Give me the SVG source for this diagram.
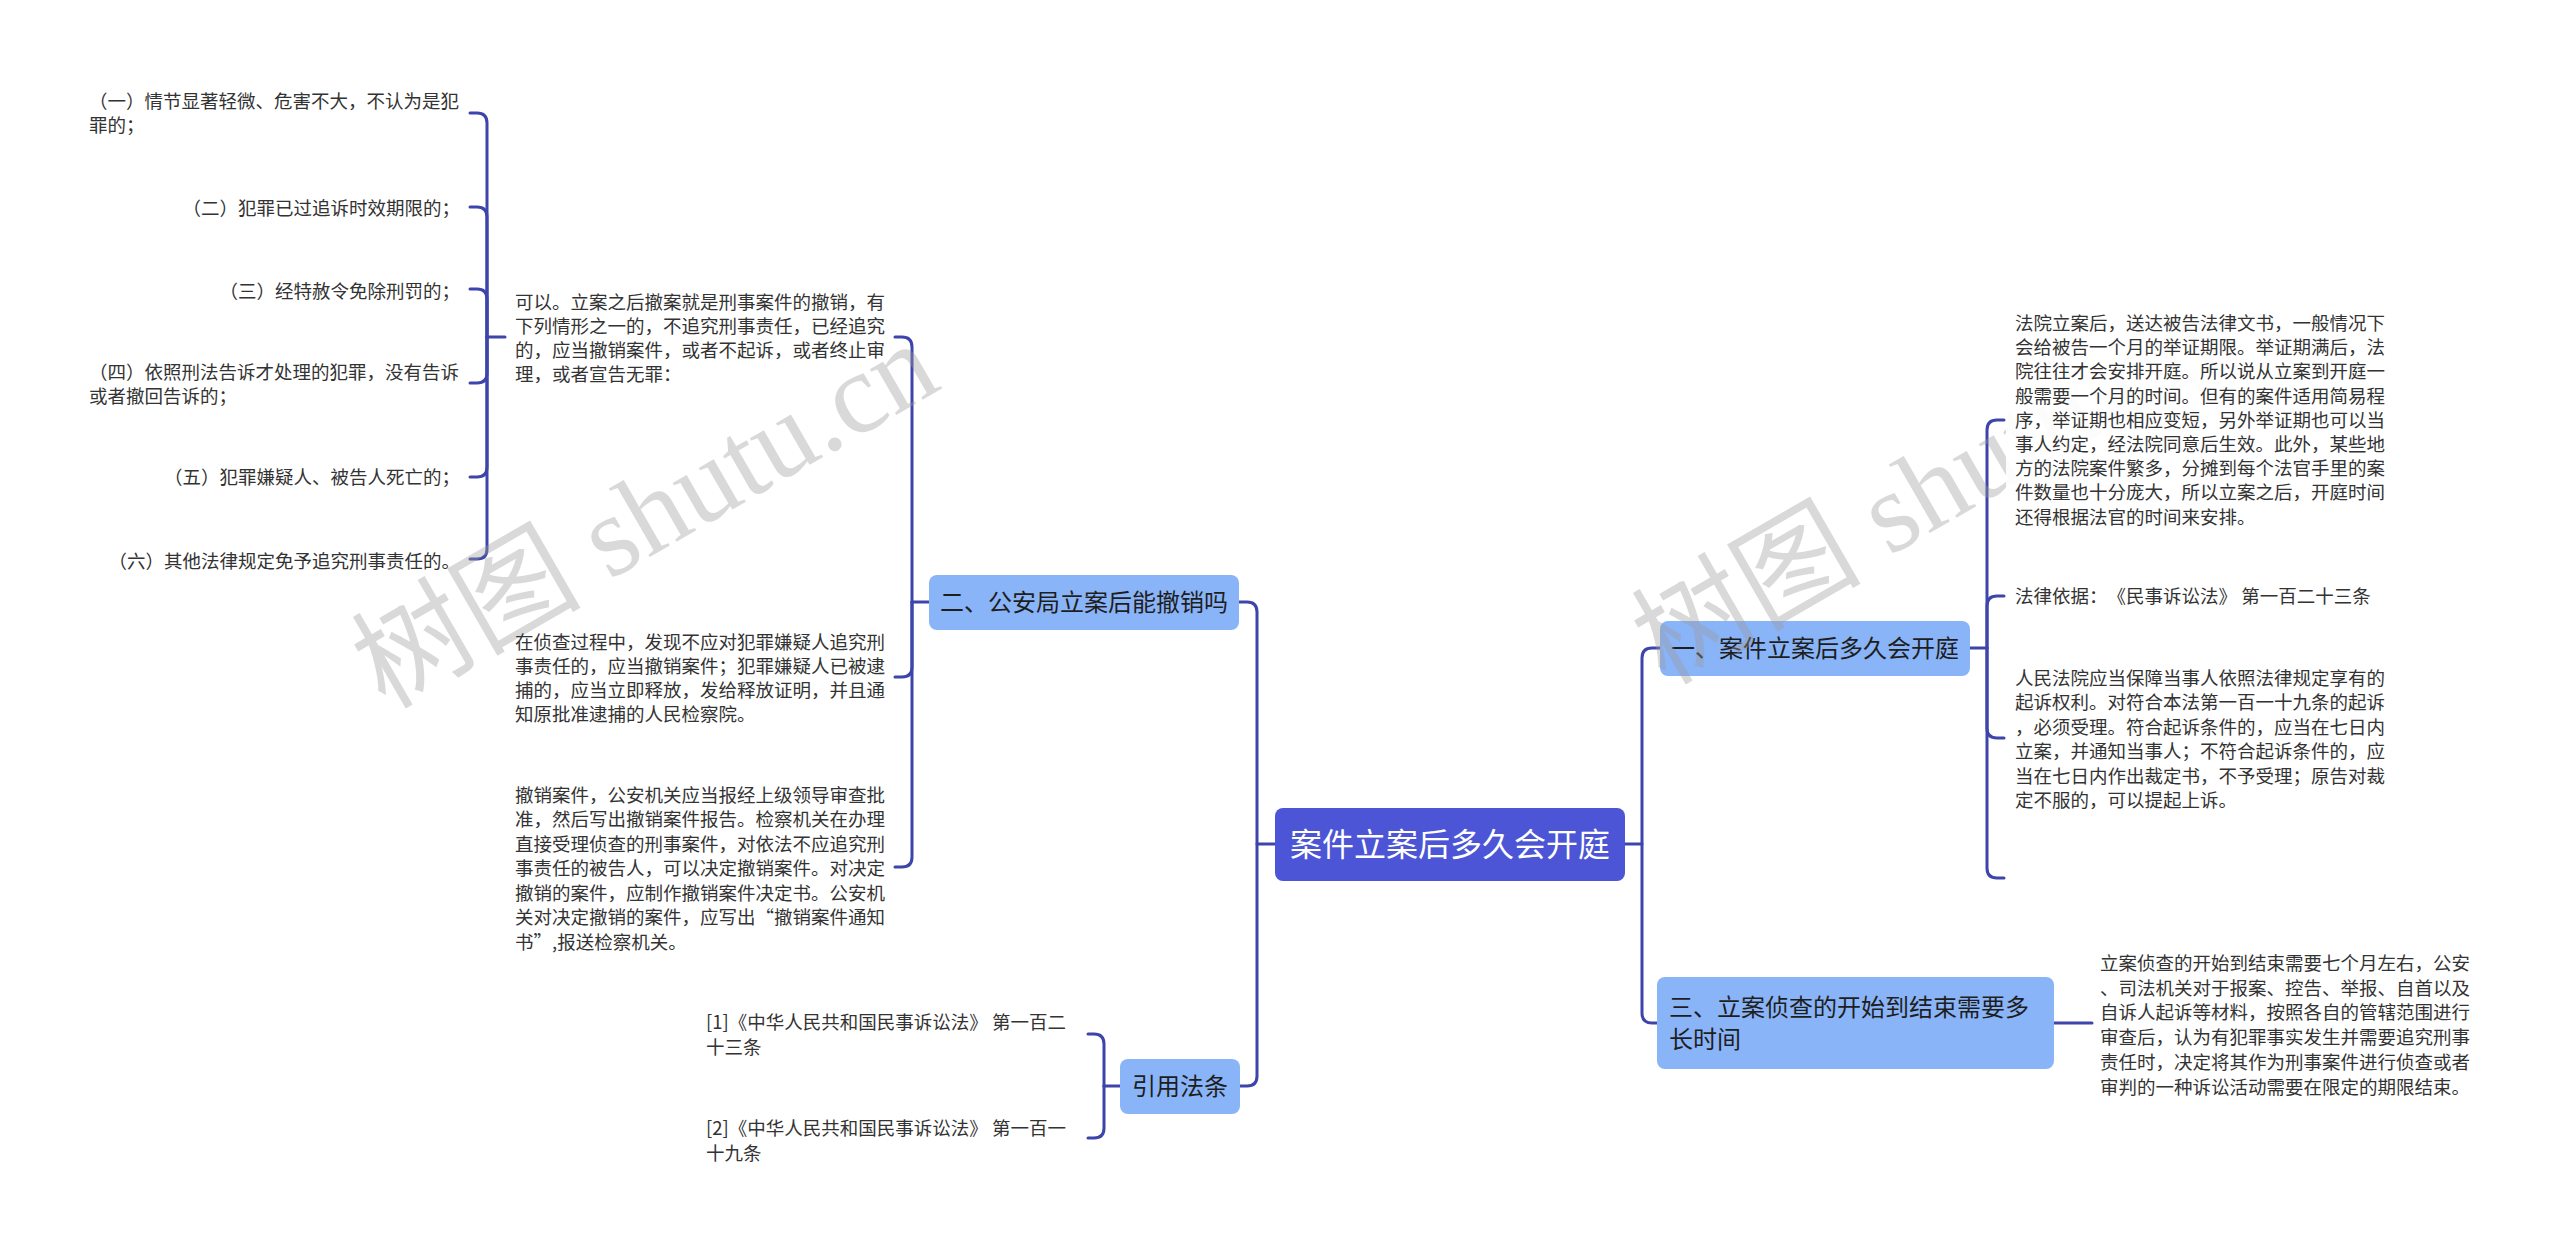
<svg xmlns="http://www.w3.org/2000/svg" width="2560" height="1253" viewBox="0 0 2560 1253">
<style>
.c{fill:none;stroke:#3d45ab;stroke-width:3;stroke-linecap:round}
.n1{fill:#8ab4f8}
.t1{font-family:"Noto Sans CJK SC","Noto Sans",sans-serif;font-size:24px;fill:#1e1e1e;text-spacing-trim:space-all}
.t{font-family:"Noto Sans CJK SC","Noto Sans",sans-serif;font-size:18.5px;fill:#333;text-spacing-trim:space-all}
.bg{fill:#fff;fill-opacity:0.92}
.wm{font-family:"Liberation Serif","Noto Sans CJK SC",serif;font-size:115px;fill:#9a9a9a;fill-opacity:0.38}
</style>
<rect width="2560" height="1253" fill="#fff"/>
<g id="connectors">
<path class="c" d="M1625,844 H1642"/>
<path class="c" d="M1660,648 H1652 Q1642,648 1642,658 V1013 Q1642,1023 1652,1023 H1657"/>
<path class="c" d="M1275,844 H1257"/>
<path class="c" d="M1239,602 H1247 Q1257,602 1257,612 V1076 Q1257,1086 1247,1086 H1240"/>
<path class="c" d="M929,602 H912"/>
<path class="c" d="M912,602 V347 Q912,337 902,337 H895"/>
<path class="c" d="M912,602 V667 Q912,677 902,677 H895"/>
<path class="c" d="M912,602 V857 Q912,867 902,867 H895"/>
<path class="c" d="M505,337 H487"/>
<path class="c" d="M487,337 V123 Q487,113 477,113 H470"/>
<path class="c" d="M487,337 V217 Q487,207 477,207 H470"/>
<path class="c" d="M487,337 V299 Q487,289 477,289 H470"/>
<path class="c" d="M487,337 V373 Q487,383 477,383 H470"/>
<path class="c" d="M487,337 V467 Q487,477 477,477 H470"/>
<path class="c" d="M487,337 V549 Q487,559 477,559 H470"/>
<path class="c" d="M1120,1086 H1104"/>
<path class="c" d="M1104,1086 V1044 Q1104,1034 1094,1034 H1088"/>
<path class="c" d="M1104,1086 V1128 Q1104,1138 1094,1138 H1088"/>
<path class="c" d="M1970,648 H1987"/>
<path class="c" d="M1987,648 V430 Q1987,420 1997,420 H2004"/>
<path class="c" d="M1987,648 V606 Q1987,596 1997,596 H2004"/>
<path class="c" d="M1987,648 V728 Q1987,738 1997,738 H2004"/>
<path class="c" d="M1987,648 V868 Q1987,878 1997,878 H2004"/>
<path class="c" d="M2054,1023 H2092"/>
</g>
<g id="root">
<rect x="1275" y="808" width="350" height="73" rx="8" fill="#4b55d6"/>
<text x="1450" y="855.5" text-anchor="middle" font-family="Noto Sans CJK SC, sans-serif" font-size="32" fill="#fff">案件立案后多久会开庭</text>
</g>
<g id="n1">
<rect class="n1" x="1660" y="621" width="310" height="55" rx="8"/>
<text class="t1" x="1815" y="656.5" text-anchor="middle">一、案件立案后多久会开庭</text>
</g>
<g id="n2">
<rect class="n1" x="929" y="575" width="310" height="55" rx="8"/>
<text class="t1" x="1084" y="610.5" text-anchor="middle">二、公安局立案后能撤销吗</text>
</g>
<g id="n3">
<rect class="n1" x="1657" y="977" width="397" height="92" rx="8"/>
<text class="t1" x="1669" y="1016">三、立案侦查的开始到结束需要多</text>
<text class="t1" x="1669" y="1048">长时间</text>
</g>
<g id="n4">
<rect class="n1" x="1120" y="1059" width="120" height="55" rx="8"/>
<text class="t1" x="1180" y="1094.5" text-anchor="middle">引用法条</text>
</g>
<g id="watermark">
<text class="wm" x="385" y="710" transform="rotate(-30 385 710)">树图 shutu.cn</text>
<text class="wm" x="1665" y="686" transform="rotate(-30 1665 686)">树图 shutu.cn</text>
</g>
<g id="l1">
<text class="t" x="89" y="107.5">（一）情节显著轻微、危害不大，不认为是犯</text>
<text class="t" x="89" y="131.5">罪的；</text>
</g>
<g id="l2"><text class="t" x="460" y="214.5" text-anchor="end">（二）犯罪已过追诉时效期限的；</text></g>
<g id="l3"><text class="t" x="460" y="297.5" text-anchor="end">（三）经特赦令免除刑罚的；</text></g>
<g id="l4">
<text class="t" x="89" y="378.5">（四）依照刑法告诉才处理的犯罪，没有告诉</text>
<text class="t" x="89" y="402.5">或者撤回告诉的；</text>
</g>
<g id="l5"><text class="t" x="460" y="483.5" text-anchor="end">（五）犯罪嫌疑人、被告人死亡的；</text></g>
<g id="l6"><text class="t" x="460" y="567.5" text-anchor="end">（六）其他法律规定免予追究刑事责任的。</text></g>
<g id="a1">
<text class="t" x="515" y="308.5">可以。立案之后撤案就是刑事案件的撤销，有</text>
<text class="t" x="515" y="332.5">下列情形之一的，不追究刑事责任，已经追究</text>
<text class="t" x="515" y="356.5">的，应当撤销案件，或者不起诉，或者终止审</text>
<text class="t" x="515" y="380.5">理，或者宣告无罪：</text>
</g>
<g id="a2">
<text class="t" x="515" y="648.5">在侦查过程中，发现不应对犯罪嫌疑人追究刑</text>
<text class="t" x="515" y="672.5">事责任的，应当撤销案件；犯罪嫌疑人已被逮</text>
<text class="t" x="515" y="696.5">捕的，应当立即释放，发给释放证明，并且通</text>
<text class="t" x="515" y="720.5">知原批准逮捕的人民检察院。</text>
</g>
<g id="a3">
<text class="t" x="515" y="801.5">撤销案件，公安机关应当报经上级领导审查批</text>
<text class="t" x="515" y="826">准，然后写出撤销案件报告。检察机关在办理</text>
<text class="t" x="515" y="850.5">直接受理侦查的刑事案件，对依法不应追究刑</text>
<text class="t" x="515" y="875">事责任的被告人，可以决定撤销案件。对决定</text>
<text class="t" x="515" y="899.5">撤销的案件，应制作撤销案件决定书。公安机</text>
<text class="t" x="515" y="924">关对决定撤销的案件，应写出“撤销案件通知</text>
<text class="t" x="515" y="948.5">书”,报送检察机关。</text>
</g>
<g id="r1">
<text class="t" x="706" y="1028.5">[1]《中华人民共和国民事诉讼法》 第一百二</text>
<text class="t" x="706" y="1053.5">十三条</text>
</g>
<g id="r2">
<text class="t" x="706" y="1134.5">[2]《中华人民共和国民事诉讼法》 第一百一</text>
<text class="t" x="706" y="1159.5">十九条</text>
</g>
<g id="b1">
<rect class="bg" x="2006" y="308" width="390" height="222"/>
<text class="t" x="2015" y="329.5">法院立案后，送达被告法律文书，一般情况下</text>
<text class="t" x="2015" y="353.5">会给被告一个月的举证期限。举证期满后，法</text>
<text class="t" x="2015" y="377.5">院往往才会安排开庭。所以说从立案到开庭一</text>
<text class="t" x="2015" y="402.5">般需要一个月的时间。但有的案件适用简易程</text>
<text class="t" x="2015" y="426.5">序，举证期也相应变短，另外举证期也可以当</text>
<text class="t" x="2015" y="450.5">事人约定，经法院同意后生效。此外，某些地</text>
<text class="t" x="2015" y="474.5">方的法院案件繁多，分摊到每个法官手里的案</text>
<text class="t" x="2015" y="498.5">件数量也十分庞大，所以立案之后，开庭时间</text>
<text class="t" x="2015" y="523.5">还得根据法官的时间来安排。</text>
</g>
<g id="b2">
<text class="t" x="2015" y="602.5">法律依据：《民事诉讼法》 第一百二十三条</text>
</g>
<g id="b3">
<text class="t" x="2015" y="684.5">人民法院应当保障当事人依照法律规定享有的</text>
<text class="t" x="2015" y="708.5">起诉权利。对符合本法第一百一十九条的起诉</text>
<text class="t" x="2015" y="733.5">，必须受理。符合起诉条件的，应当在七日内</text>
<text class="t" x="2015" y="757.5">立案，并通知当事人；不符合起诉条件的，应</text>
<text class="t" x="2015" y="782.5">当在七日内作出裁定书，不予受理；原告对裁</text>
<text class="t" x="2015" y="806.5">定不服的，可以提起上诉。</text>
</g>
<g id="c1">
<text class="t" x="2100" y="969.5">立案侦查的开始到结束需要七个月左右，公安</text>
<text class="t" x="2100" y="994.5">、司法机关对于报案、控告、举报、自首以及</text>
<text class="t" x="2100" y="1018.5">自诉人起诉等材料，按照各自的管辖范围进行</text>
<text class="t" x="2100" y="1043.5">审查后，认为有犯罪事实发生并需要追究刑事</text>
<text class="t" x="2100" y="1068.5">责任时，决定将其作为刑事案件进行侦查或者</text>
<text class="t" x="2100" y="1093.5">审判的一种诉讼活动需要在限定的期限结束。</text>
</g>
</svg>
